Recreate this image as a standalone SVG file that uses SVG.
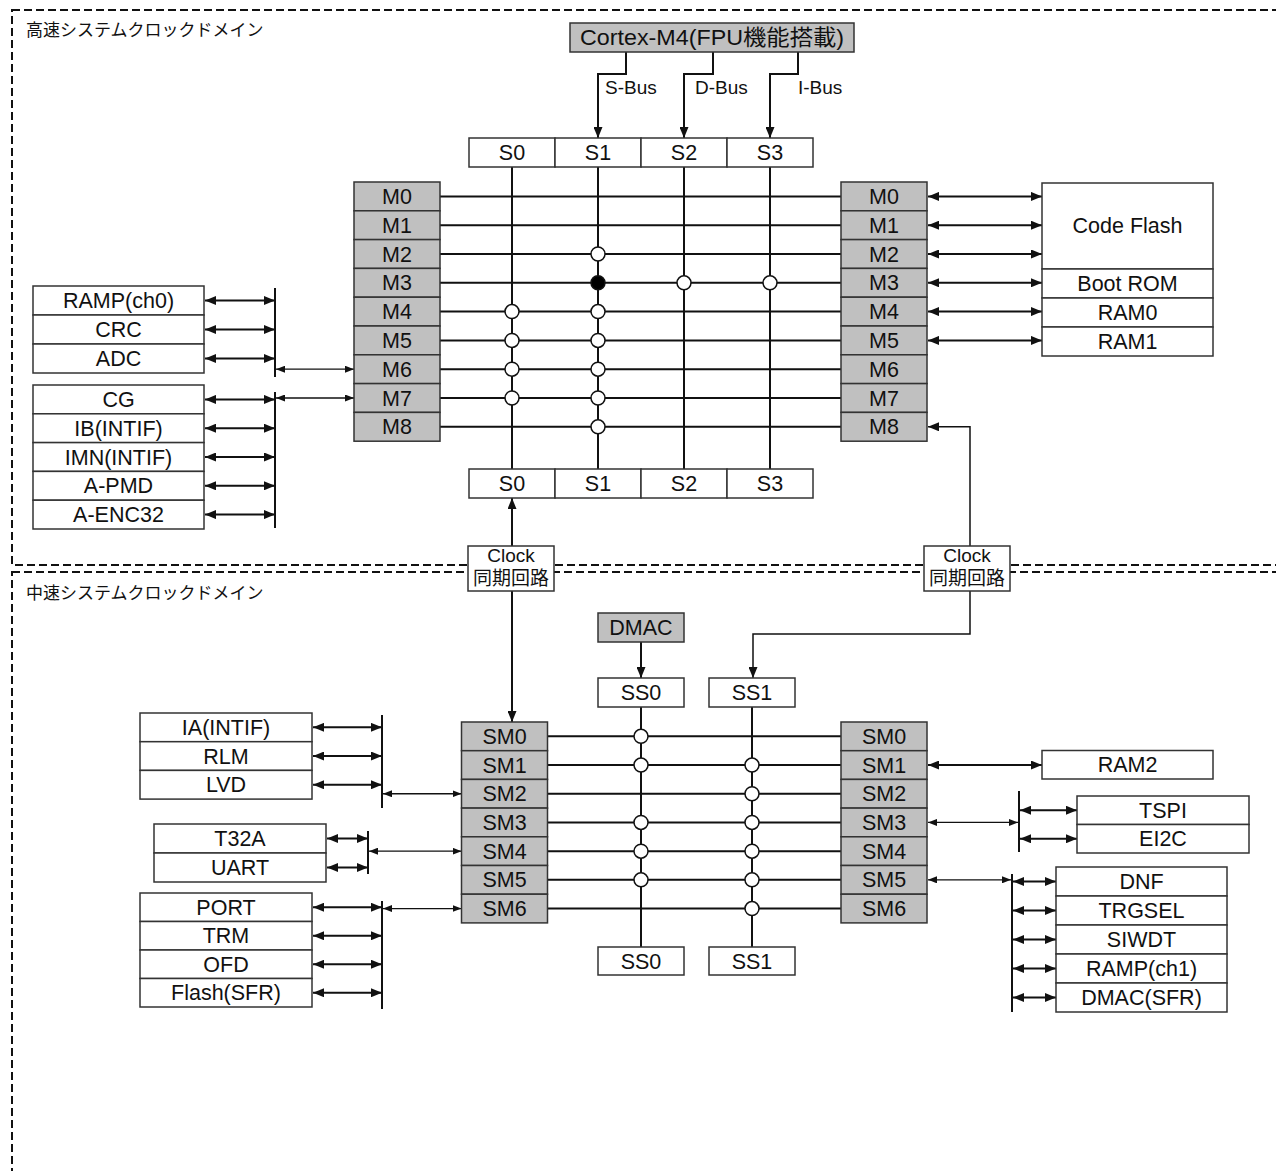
<svg xmlns="http://www.w3.org/2000/svg" width="1276" height="1171" viewBox="0 0 1276 1171">
<defs>
<style>
.bx{fill:#fff;stroke:#333;stroke-width:1.5}
.gy{fill:#c0c0c0;stroke:#333;stroke-width:1.5}
.t{font-family:"Liberation Sans","Noto Sans CJK JP",sans-serif;font-size:21.5px;text-anchor:middle;fill:#111}
.s{font-family:"Liberation Sans","Noto Sans CJK JP",sans-serif;font-size:19px;fill:#111}
.d{font-family:"Noto Sans CJK JP",sans-serif;font-size:17px;fill:#111}
.ln{stroke:#111;stroke-width:2;fill:none}
.th{stroke:#111;stroke-width:1.3;fill:none}
.dom{fill:none;stroke:#111;stroke-width:2;stroke-dasharray:8 4}
.oc{fill:#fff;stroke:#111;stroke-width:1.5}
.fc{fill:#000;stroke:#111;stroke-width:1.5}
.a2{marker-start:url(#a);marker-end:url(#a)}
.b2{marker-start:url(#b);marker-end:url(#b)}
.ae{marker-end:url(#a)}
</style>
<marker id="a" viewBox="0 0 11 9" refX="11" refY="4.5" markerWidth="11" markerHeight="9" markerUnits="userSpaceOnUse" orient="auto-start-reverse"><path d="M0,0L11,4.5L0,9z" fill="#111"/></marker>
<marker id="b" viewBox="0 0 9 7" refX="9" refY="3.5" markerWidth="9" markerHeight="7" markerUnits="userSpaceOnUse" orient="auto-start-reverse"><path d="M0,0L9,3.5L0,7z" fill="#111"/></marker>
</defs>
<rect width="1276" height="1171" fill="#fff"/>

<g id="domains">
<rect class="dom" x="12" y="10" width="1300" height="555"/>
<rect class="dom" x="12" y="572" width="1300" height="700"/>
<text class="d" x="26" y="36">高速システムクロックドメイン</text>
<text class="d" x="26" y="599">中速システムクロックドメイン</text>
</g>

<g id="connectors">
<path class="ln ae" d="M626,52V74H598V138"/>
<path class="ln ae" d="M713,52V74H684V138"/>
<path class="ln ae" d="M798,52V74H770V138"/>
<text class="s" x="605" y="94">S-Bus</text>
<text class="s" x="695" y="94">D-Bus</text>
<text class="s" x="798" y="94">I-Bus</text>
<path class="ln" d="M440,196.4H841M440,225.2H841M440,254H841M440,282.8H841M440,311.6H841M440,340.4H841M440,369.2H841M440,398H841M440,426.8H841"/>
<path class="ln" d="M512,167V469M598,167V469M684,167V469M770,167V469"/>
<line class="ln a2" x1="928" y1="196.4" x2="1042" y2="196.4"/>
<line class="ln a2" x1="928" y1="225.2" x2="1042" y2="225.2"/>
<line class="ln a2" x1="928" y1="254" x2="1042" y2="254"/>
<line class="ln a2" x1="928" y1="282.8" x2="1042" y2="282.8"/>
<line class="ln a2" x1="928" y1="311.6" x2="1042" y2="311.6"/>
<line class="ln a2" x1="928" y1="340.4" x2="1042" y2="340.4"/>
<line class="ln a2" x1="205" y1="300.5" x2="275" y2="300.5"/>
<line class="ln a2" x1="205" y1="329.5" x2="275" y2="329.5"/>
<line class="ln a2" x1="205" y1="358.5" x2="275" y2="358.5"/>
<line class="ln" x1="275" y1="288" x2="275" y2="377"/>
<line class="th b2" x1="276" y1="369.2" x2="354" y2="369.2"/>
<line class="ln a2" x1="205" y1="399.4" x2="275" y2="399.4"/>
<line class="ln a2" x1="205" y1="428.2" x2="275" y2="428.2"/>
<line class="ln a2" x1="205" y1="457" x2="275" y2="457"/>
<line class="ln a2" x1="205" y1="485.8" x2="275" y2="485.8"/>
<line class="ln a2" x1="205" y1="514.6" x2="275" y2="514.6"/>
<line class="ln" x1="275" y1="392" x2="275" y2="528"/>
<line class="th b2" x1="276" y1="398" x2="354" y2="398"/>
<line class="ln a2" x1="512" y1="498" x2="512" y2="722"/>
<path class="ln" d="M970,547V426.8H928" marker-end="url(#a)" style="stroke-width:1.5"/>
<path class="ln" d="M970,590V634H753V678" marker-end="url(#a)" style="stroke-width:1.5"/>
<line class="ln ae" x1="641" y1="642" x2="641" y2="678"/>
<path class="ln" d="M547.5,736.35H841M547.5,765.05H841M547.5,793.75H841M547.5,822.45H841M547.5,851.15H841M547.5,879.85H841M547.5,908.55H841"/>
<path class="ln" d="M641,707V947M752,707V947"/>
<line class="ln a2" x1="313" y1="727.35" x2="382" y2="727.35"/>
<line class="ln a2" x1="313" y1="756.05" x2="382" y2="756.05"/>
<line class="ln a2" x1="313" y1="784.75" x2="382" y2="784.75"/>
<line class="ln" x1="382" y1="715" x2="382" y2="808"/>
<line class="th b2" x1="383" y1="793.75" x2="461.5" y2="793.75"/>
<line class="ln a2" x1="327" y1="838.5" x2="368" y2="838.5"/>
<line class="ln a2" x1="327" y1="867.5" x2="368" y2="867.5"/>
<line class="ln" x1="368" y1="831" x2="368" y2="874"/>
<line class="th b2" x1="369" y1="851.15" x2="461.5" y2="851.15"/>
<line class="ln a2" x1="313" y1="907.25" x2="382" y2="907.25"/>
<line class="ln a2" x1="313" y1="935.75" x2="382" y2="935.75"/>
<line class="ln a2" x1="313" y1="964.25" x2="382" y2="964.25"/>
<line class="ln a2" x1="313" y1="992.75" x2="382" y2="992.75"/>
<line class="ln" x1="382" y1="901" x2="382" y2="1009"/>
<line class="th b2" x1="383" y1="908.55" x2="461.5" y2="908.55"/>
<line class="ln a2" x1="928" y1="765.05" x2="1042" y2="765.05"/>
<line class="th b2" x1="928" y1="822.45" x2="1018" y2="822.45"/>
<line class="ln" x1="1019" y1="791" x2="1019" y2="852"/>
<line class="ln a2" x1="1020" y1="810.25" x2="1077" y2="810.25"/>
<line class="ln a2" x1="1020" y1="838.75" x2="1077" y2="838.75"/>
<line class="th b2" x1="928" y1="879.85" x2="1011" y2="879.85"/>
<line class="ln" x1="1012" y1="874" x2="1012" y2="1012"/>
<line class="ln a2" x1="1013" y1="881.5" x2="1056" y2="881.5"/>
<line class="ln a2" x1="1013" y1="910.5" x2="1056" y2="910.5"/>
<line class="ln a2" x1="1013" y1="939.5" x2="1056" y2="939.5"/>
<line class="ln a2" x1="1013" y1="968.5" x2="1056" y2="968.5"/>
<line class="ln a2" x1="1013" y1="997.5" x2="1056" y2="997.5"/>
</g>

<g id="crosspoints">
<circle class="oc" cx="512" cy="311.6" r="7"/><circle class="oc" cx="512" cy="340.4" r="7"/><circle class="oc" cx="512" cy="369.2" r="7"/><circle class="oc" cx="512" cy="398" r="7"/>
<circle class="oc" cx="598" cy="254" r="7"/><circle class="fc" cx="598" cy="282.8" r="7"/><circle class="oc" cx="598" cy="311.6" r="7"/><circle class="oc" cx="598" cy="340.4" r="7"/><circle class="oc" cx="598" cy="369.2" r="7"/><circle class="oc" cx="598" cy="398" r="7"/><circle class="oc" cx="598" cy="426.8" r="7"/>
<circle class="oc" cx="684" cy="282.8" r="7"/><circle class="oc" cx="770" cy="282.8" r="7"/>
<circle class="oc" cx="641" cy="736.35" r="7"/><circle class="oc" cx="641" cy="765.05" r="7"/><circle class="oc" cx="641" cy="822.45" r="7"/><circle class="oc" cx="641" cy="851.15" r="7"/><circle class="oc" cx="641" cy="879.85" r="7"/>
<circle class="oc" cx="752" cy="765.05" r="7"/><circle class="oc" cx="752" cy="793.75" r="7"/><circle class="oc" cx="752" cy="822.45" r="7"/><circle class="oc" cx="752" cy="851.15" r="7"/><circle class="oc" cx="752" cy="879.85" r="7"/><circle class="oc" cx="752" cy="908.55" r="7"/>
</g>

<g id="cortex-m4">
<rect class="gy" x="570" y="23" width="284" height="29"/>
<text class="t" x="712" y="45" textLength="264" lengthAdjust="spacingAndGlyphs">Cortex-M4(FPU機能搭載)</text>
</g>

<g id="slave-top">
<rect class="bx" x="469" y="138" width="86" height="29"/><rect class="bx" x="555" y="138" width="86" height="29"/><rect class="bx" x="641" y="138" width="86" height="29"/><rect class="bx" x="727" y="138" width="86" height="29"/>
<text class="t" x="512" y="160">S0</text><text class="t" x="598" y="160">S1</text><text class="t" x="684" y="160">S2</text><text class="t" x="770" y="160">S3</text>
</g>

<g id="slave-bottom">
<rect class="bx" x="469" y="469" width="86" height="29"/><rect class="bx" x="555" y="469" width="86" height="29"/><rect class="bx" x="641" y="469" width="86" height="29"/><rect class="bx" x="727" y="469" width="86" height="29"/>
<text class="t" x="512" y="491">S0</text><text class="t" x="598" y="491">S1</text><text class="t" x="684" y="491">S2</text><text class="t" x="770" y="491">S3</text>
</g>

<g id="master-left">
<rect class="gy" x="354" y="182" width="86" height="28.8"/><rect class="gy" x="354" y="210.8" width="86" height="28.8"/><rect class="gy" x="354" y="239.6" width="86" height="28.8"/><rect class="gy" x="354" y="268.4" width="86" height="28.8"/><rect class="gy" x="354" y="297.2" width="86" height="28.8"/><rect class="gy" x="354" y="326" width="86" height="28.8"/><rect class="gy" x="354" y="354.8" width="86" height="28.8"/><rect class="gy" x="354" y="383.6" width="86" height="28.8"/><rect class="gy" x="354" y="412.4" width="86" height="28.8"/>
<text class="t" x="397" y="204">M0</text><text class="t" x="397" y="232.7">M1</text><text class="t" x="397" y="261.5">M2</text><text class="t" x="397" y="290.3">M3</text><text class="t" x="397" y="319.1">M4</text><text class="t" x="397" y="347.9">M5</text><text class="t" x="397" y="376.7">M6</text><text class="t" x="397" y="405.5">M7</text><text class="t" x="397" y="434.3">M8</text>
</g>

<g id="master-right">
<rect class="gy" x="841" y="182" width="86" height="28.8"/><rect class="gy" x="841" y="210.8" width="86" height="28.8"/><rect class="gy" x="841" y="239.6" width="86" height="28.8"/><rect class="gy" x="841" y="268.4" width="86" height="28.8"/><rect class="gy" x="841" y="297.2" width="86" height="28.8"/><rect class="gy" x="841" y="326" width="86" height="28.8"/><rect class="gy" x="841" y="354.8" width="86" height="28.8"/><rect class="gy" x="841" y="383.6" width="86" height="28.8"/><rect class="gy" x="841" y="412.4" width="86" height="28.8"/>
<text class="t" x="884" y="204">M0</text><text class="t" x="884" y="232.7">M1</text><text class="t" x="884" y="261.5">M2</text><text class="t" x="884" y="290.3">M3</text><text class="t" x="884" y="319.1">M4</text><text class="t" x="884" y="347.9">M5</text><text class="t" x="884" y="376.7">M6</text><text class="t" x="884" y="405.5">M7</text><text class="t" x="884" y="434.3">M8</text>
</g>

<g id="memories">
<rect class="bx" x="1042" y="183" width="171" height="86"/><rect class="bx" x="1042" y="269" width="171" height="29"/><rect class="bx" x="1042" y="298" width="171" height="29"/><rect class="bx" x="1042" y="327" width="171" height="29"/>
<text class="t" x="1127.5" y="233">Code Flash</text><text class="t" x="1127.5" y="291">Boot ROM</text><text class="t" x="1127.5" y="320">RAM0</text><text class="t" x="1127.5" y="349">RAM1</text>
</g>

<g id="periph-group1">
<rect class="bx" x="33" y="286" width="171" height="29"/><rect class="bx" x="33" y="315" width="171" height="29"/><rect class="bx" x="33" y="344" width="171" height="29"/>
<text class="t" x="118.5" y="308">RAMP(ch0)</text><text class="t" x="118.5" y="337">CRC</text><text class="t" x="118.5" y="366">ADC</text>
</g>

<g id="periph-group2">
<rect class="bx" x="33" y="385" width="171" height="28.8"/><rect class="bx" x="33" y="413.8" width="171" height="28.8"/><rect class="bx" x="33" y="442.6" width="171" height="28.8"/><rect class="bx" x="33" y="471.4" width="171" height="28.8"/><rect class="bx" x="33" y="500.2" width="171" height="28.8"/>
<text class="t" x="118.5" y="407">CG</text><text class="t" x="118.5" y="435.7">IB(INTIF)</text><text class="t" x="118.5" y="464.5">IMN(INTIF)</text><text class="t" x="118.5" y="493.3">A-PMD</text><text class="t" x="118.5" y="522">A-ENC32</text>
</g>

<g id="clock-sync-left">
<rect class="bx" x="468" y="546" width="86" height="45"/>
<text class="s" x="511" y="562" text-anchor="middle">Clock</text><text class="s" x="511" y="585" text-anchor="middle">同期回路</text>
</g>

<g id="clock-sync-right">
<rect class="bx" x="924" y="546" width="86" height="45"/>
<text class="s" x="967" y="562" text-anchor="middle">Clock</text><text class="s" x="967" y="585" text-anchor="middle">同期回路</text>
</g>

<g id="dmac">
<rect class="gy" x="598" y="613" width="86" height="29"/>
<text class="t" x="641" y="635">DMAC</text>
</g>

<g id="ss-top">
<rect class="bx" x="598" y="678" width="86" height="29"/><rect class="bx" x="709" y="678" width="86" height="29"/>
<text class="t" x="641" y="700">SS0</text><text class="t" x="752" y="700">SS1</text>
</g>

<g id="ss-bottom">
<rect class="bx" x="598" y="947" width="86" height="28"/><rect class="bx" x="709" y="947" width="86" height="28"/>
<text class="t" x="641" y="968.5">SS0</text><text class="t" x="752" y="968.5">SS1</text>
</g>

<g id="sm-left">
<rect class="gy" x="461.5" y="722" width="86" height="28.7"/><rect class="gy" x="461.5" y="750.7" width="86" height="28.7"/><rect class="gy" x="461.5" y="779.4" width="86" height="28.7"/><rect class="gy" x="461.5" y="808.1" width="86" height="28.7"/><rect class="gy" x="461.5" y="836.8" width="86" height="28.7"/><rect class="gy" x="461.5" y="865.5" width="86" height="28.7"/><rect class="gy" x="461.5" y="894.2" width="86" height="28.7"/>
<text class="t" x="504.5" y="743.9">SM0</text><text class="t" x="504.5" y="772.6">SM1</text><text class="t" x="504.5" y="801.3">SM2</text><text class="t" x="504.5" y="830">SM3</text><text class="t" x="504.5" y="858.7">SM4</text><text class="t" x="504.5" y="887.4">SM5</text><text class="t" x="504.5" y="916.1">SM6</text>
</g>

<g id="sm-right">
<rect class="gy" x="841" y="722" width="86" height="28.7"/><rect class="gy" x="841" y="750.7" width="86" height="28.7"/><rect class="gy" x="841" y="779.4" width="86" height="28.7"/><rect class="gy" x="841" y="808.1" width="86" height="28.7"/><rect class="gy" x="841" y="836.8" width="86" height="28.7"/><rect class="gy" x="841" y="865.5" width="86" height="28.7"/><rect class="gy" x="841" y="894.2" width="86" height="28.7"/>
<text class="t" x="884" y="743.9">SM0</text><text class="t" x="884" y="772.6">SM1</text><text class="t" x="884" y="801.3">SM2</text><text class="t" x="884" y="830">SM3</text><text class="t" x="884" y="858.7">SM4</text><text class="t" x="884" y="887.4">SM5</text><text class="t" x="884" y="916.1">SM6</text>
</g>

<g id="periph-group3">
<rect class="bx" x="140" y="713" width="172" height="28.7"/><rect class="bx" x="140" y="741.7" width="172" height="28.7"/><rect class="bx" x="140" y="770.4" width="172" height="28.7"/>
<text class="t" x="226" y="734.9">IA(INTIF)</text><text class="t" x="226" y="763.6">RLM</text><text class="t" x="226" y="792.3">LVD</text>
</g>

<g id="periph-group4">
<rect class="bx" x="154" y="824" width="172" height="29"/><rect class="bx" x="154" y="853" width="172" height="29"/>
<text class="t" x="240" y="846">T32A</text><text class="t" x="240" y="875">UART</text>
</g>

<g id="periph-group5">
<rect class="bx" x="140" y="893" width="172" height="28.5"/><rect class="bx" x="140" y="921.5" width="172" height="28.5"/><rect class="bx" x="140" y="950" width="172" height="28.5"/><rect class="bx" x="140" y="978.5" width="172" height="28.5"/>
<text class="t" x="226" y="914.8">PORT</text><text class="t" x="226" y="943.3">TRM</text><text class="t" x="226" y="971.8">OFD</text><text class="t" x="226" y="1000.3">Flash(SFR)</text>
</g>

<g id="ram2">
<rect class="bx" x="1042" y="750.5" width="171" height="28.5"/>
<text class="t" x="1127.5" y="772.3">RAM2</text>
</g>

<g id="periph-group6">
<rect class="bx" x="1077" y="796" width="172" height="28.5"/><rect class="bx" x="1077" y="824.5" width="172" height="28.5"/>
<text class="t" x="1163" y="817.8">TSPI</text><text class="t" x="1163" y="846.3">EI2C</text>
</g>

<g id="periph-group7">
<rect class="bx" x="1056" y="867" width="171" height="29"/><rect class="bx" x="1056" y="896" width="171" height="29"/><rect class="bx" x="1056" y="925" width="171" height="29"/><rect class="bx" x="1056" y="954" width="171" height="29"/><rect class="bx" x="1056" y="983" width="171" height="29"/>
<text class="t" x="1141.5" y="889">DNF</text><text class="t" x="1141.5" y="918">TRGSEL</text><text class="t" x="1141.5" y="947">SIWDT</text><text class="t" x="1141.5" y="976">RAMP(ch1)</text><text class="t" x="1141.5" y="1005">DMAC(SFR)</text>
</g>
</svg>
